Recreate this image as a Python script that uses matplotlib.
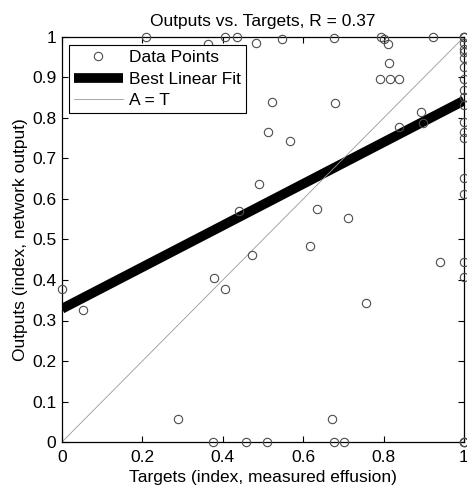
import matplotlib.pyplot as plt

plt.rcParams['font.family'] = ['Liberation Sans', 'DejaVu Sans']

# values
targets = [0.209, 0.362, 0.405, 0.435, 0.483, 0.547, 0.677, 0.793, 0.801, 0.810,
           0.924, 0.813, 0.791, 0.816, 0.838, 0.522, 0.679, 0.512, 0.567, 0.893,
           0.899, 0.839, 0.0, 0.053, 0.440, 0.490, 0.377, 0.405, 0.473, 0.634,
           0.711, 0.618, 0.940, 0.757, 0.289, 0.376, 0.458, 0.511, 0.671, 0.677,
           0.702]
outputs = [1.0, 0.983, 1.0, 1.0, 0.986, 0.994, 0.998, 1.0, 0.995, 0.983,
           1.0, 0.937, 0.897, 0.896, 0.896, 0.839, 0.836, 0.765, 0.744, 0.814,
           0.787, 0.779, 0.378, 0.326, 0.570, 0.637, 0.406, 0.378, 0.461, 0.575,
           0.554, 0.483, 0.444, 0.342, 0.058, 0.0, 0.0, 0.0, 0.058, 0.0,
           0.0]
# points sitting on target = 1
edge_outputs = [1.0, 1.0, 1.0, 0.984, 0.970, 0.964, 0.947, 0.927, 0.896, 0.869,
                0.853, 0.832, 0.791, 0.766, 0.750, 0.651, 0.612, 0.445, 0.407,
                0.0, 0.0, 0.0]
targets = targets + [1.0] * len(edge_outputs)
outputs = outputs + edge_outputs

fit_slope = 0.514
fit_intercept = 0.329
r_value = 0.37

x_ticks = [0, 0.2, 0.4, 0.6, 0.8, 1]
x_tick_labels = ['0', '0.2', '0.4', '0.6', '0.8', '1']
y_ticks = [0, 0.1, 0.2, 0.3, 0.4, 0.5, 0.6, 0.7, 0.8, 0.9, 1]
y_tick_labels = ['0', '0.1', '0.2', '0.3', '0.4', '0.5', '0.6', '0.7', '0.8', '0.9', '1']

fs = 12.5

fig = plt.figure(figsize=(4.67, 4.86), dpi=100)
ax = fig.add_axes([62 / 467, 1 - 442 / 486, 402 / 467, 405 / 486])

ax.plot(targets, outputs, 'o', mfc='none', mec='0.3', ms=6, mew=0.8,
        clip_on=False, label='Data Points', zorder=3)
fit_x = [0, 1]
fit_y = [fit_intercept + fit_slope * v for v in fit_x]
ax.plot(fit_x, fit_y, '-', color='black', lw=7, solid_capstyle='butt',
        label='Best Linear Fit', zorder=2)
ax.plot([0, 1], [0, 1], '-', color='0.6', lw=0.6, label='A = T', zorder=2)

ax.set_xlim(0, 1)
ax.set_ylim(0, 1)
ax.set_xticks(x_ticks)
ax.set_xticklabels(x_tick_labels)
ax.set_yticks(y_ticks)
ax.set_yticklabels(y_tick_labels)
ax.tick_params(direction='in', length=4, width=0.8, top=True, right=True,
               labelsize=fs, pad=4)
ax.tick_params(axis='x', pad=6)
for s in ax.spines.values():
    s.set_linewidth(0.9)

ax.set_title('Outputs vs. Targets, R = {:.2f}'.format(r_value), fontsize=fs, pad=8)
ax.set_xlabel('Targets (index, measured effusion)', fontsize=fs, labelpad=3.5)
ax.set_ylabel('Outputs (index, network output)', fontsize=fs, labelpad=3)

leg = ax.legend(loc='upper left', bbox_to_anchor=(0.017, 0.98), borderaxespad=0,
                fontsize=fs, numpoints=1, handlelength=2.8, handletextpad=0.35,
                labelspacing=0.35, borderpad=0.3, fancybox=False, framealpha=1,
                edgecolor='black')
leg.get_frame().set_linewidth(0.8)
leg.set_zorder(5)

fig.savefig('out.png', dpi=100)
